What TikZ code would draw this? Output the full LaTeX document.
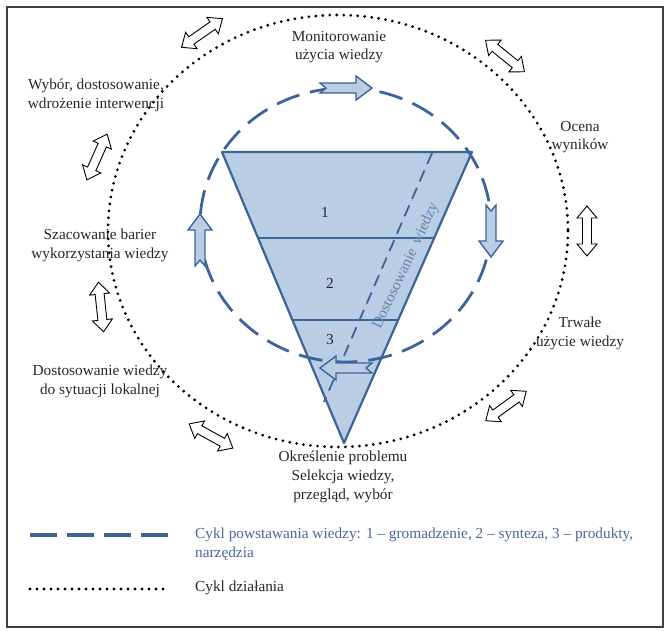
\documentclass[tikz,border=0pt]{standalone}
\usepackage{fontspec}
\setmainfont{Liberation Serif}
\usetikzlibrary{positioning,calc}
\definecolor{cycline}{RGB}{61,100,152}
\definecolor{cycfill}{RGB}{185,205,229}
\definecolor{legtext}{RGB}{72,102,150}
\tikzset{
  lbl/.style={align=center, text=black!85, inner sep=0pt, font=\fontsize{15.3}{18.7}\selectfont},
  knowcycle/.style={cycline, line width=2.8pt, dash pattern=on 24pt off 11pt},
  actcycle/.style={line width=3.1pt, dash pattern=on 0pt off 7pt, line cap=round},
  cycarrow/.pic={\draw[cycline, fill=cycfill, line width=1.4pt]
    (-26,-5) -- (10,-5) -- (10,-12) -- (26,0) -- (10,12) -- (10,5) -- (-26,5) -- (-20,0) -- cycle;},
  dblarrow/.pic={\draw[fill=white, line width=0.9pt]
    (-25,0) -- (-13,-10) -- (-13,-4.5) -- (13,-4.5) -- (13,-10) -- (25,0) -- (13,10) -- (13,4.5) -- (-13,4.5) -- (-13,10) -- cycle;}
}
\begin{document}
\begin{tikzpicture}[x=1pt, y=-1pt]
  \useasboundingbox (0,0) rectangle (669,630);
  \draw[line width=1.2pt, black!75] (7,7) rectangle (663,627);

  \coordinate (tl) at (222,152);
  \coordinate (tr) at (472,152);
  \coordinate (tip) at (344,443);
  \filldraw[cycline, fill=cycfill, line width=2.2pt, line join=round] (tl) -- (tr) -- (tip) -- cycle;
  \draw[cycline, line width=1.8pt] ($(tl)!0.2955!(tip)$) -- ($(tr)!0.2955!(tip)$);
  \draw[cycline, line width=1.8pt] ($(tl)!0.577!(tip)$) -- ($(tr)!0.577!(tip)$);
  \node[lbl] (n1) at (325,212) {1};
  \node[lbl] (n2) at (330,283) {2};
  \node[lbl] (n3) at (330,340) {3};

  \coordinate (dtop) at (432,153);
  \coordinate (dbot) at (324,402);
  \draw[cycline, line width=1.8pt, dash pattern=on 12pt off 7pt] (dtop) -- (dbot);
  \node[lbl, text=cycline!80, rotate=65] (adapt) at (406,266) {Dostosowanie\, wiedzy};

  \draw[knowcycle] (345.5,225) ellipse [x radius=145.5, y radius=137];
  \pic[rotate=0] at (346,88) {cycarrow};
  \pic[rotate=-90] at (491,231) {cycarrow};
  \pic[rotate=180] at (346,368) {cycarrow};
  \pic[rotate=90] at (200,240) {cycarrow};

  \draw[actcycle] (338,231) ellipse [x radius=230, y radius=216];
  \foreach \x/\y/\a in {202/33/35, 505/56/-39, 97/157/66, 101/307/96, 211/436/-29, 587/231/90, 506/406/36}
    \pic[rotate=\a] at (\x,\y) {dblarrow};

  \node[lbl] (mon) at (339,47) {Monitorowanie\\użycia wiedzy};
  \node[lbl] (wyb) at (96,95) {Wybór, dostosowanie,\\wdrożenie interwencji};
  \node[lbl] (ocena) at (580,137) {Ocena\\wyników};
  \node[lbl] (szac) at (100,245) {Szacowanie barier\\wykorzystania wiedzy};
  \node[lbl] (trw) at (580,333) {Trwałe\\użycie wiedzy};
  \node[lbl] (dost) at (100,381) {Dostosowanie wiedzy\\do sytuacji lokalnej};
  \node[lbl] (okr) at (343,477) {Określenie problemu\\Selekcja wiedzy,\\przegląd, wybór};

  \coordinate (leg1a) at (30,535);
  \coordinate (leg1b) at (168,535);
  \coordinate (leg2a) at (30,589);
  \coordinate (leg2b) at (168,589);
  \draw[knowcycle, line width=3.4pt, dash pattern=on 27pt off 10pt] (leg1a) -- (leg1b);
  \draw[actcycle] (leg2a) -- (leg2b);
  \node[lbl, text=legtext, align=left, anchor=base west] (legknow) at (195,557)
    {Cykl powstawania wiedzy: 1 -- gromadzenie, 2 -- synteza, 3 -- produkty,\\narzędzia};
  \node[lbl, align=left, anchor=base west] (legact) at (195,591) {Cykl działania};
\end{tikzpicture}
\end{document}
